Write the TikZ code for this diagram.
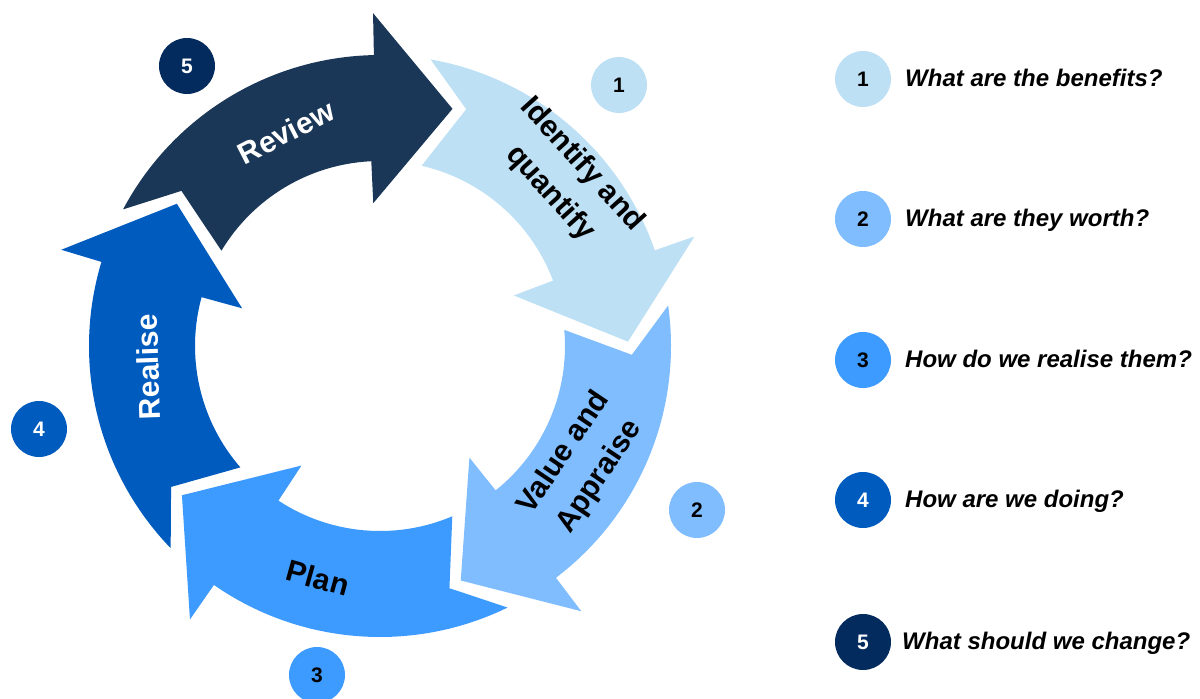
\documentclass[tikz,border=0pt]{standalone}
\usepackage{fontspec}
\setmainfont{Liberation Sans}
\usetikzlibrary{calc}
\definecolor{cIdent}{HTML}{BDE0F5}
\definecolor{cValue}{HTML}{80BDFF}
\definecolor{cPlan}{HTML}{3D9BFF}
\definecolor{cReal}{HTML}{005BBF}
\definecolor{cRev}{HTML}{1B3757}
\definecolor{cRevB}{HTML}{042B5E}
\newcommand\cyclearrow[2]{%
  \fill[#2] ($(C)+({#1+79}:291pt)$) arc[start angle={#1+79}, end angle={#1+18.2}, radius=291pt]
    -- ($(C)+({#1+18.2}:333pt)$) -- ($(C)+(#1:248pt)$) -- ($(C)+({#1+19.7}:143pt)$)
    -- ($(C)+({#1+19.7}:185pt)$) arc[start angle={#1+19.7}, end angle={#1+76}, radius=185pt]
    -- ($(C)+({#1+69}:252pt)$) -- cycle;}
\begin{document}
\begin{tikzpicture}[x=1pt,y=1pt,
  lbl/.style={font=\fontsize{30}{36}\selectfont\bfseries, align=center, inner sep=0pt},
  badge/.style={circle, minimum size=56pt, inner sep=0pt, font=\fontsize{21}{21}\selectfont\bfseries},
  q/.style={anchor=base west, inner sep=0pt, font=\fontsize{24}{24}\selectfont\bfseries\itshape}]
\useasboundingbox (0,-699) rectangle (1200,0);
\coordinate (C) at (380,-346);
% ring arrows
\cyclearrow{73}{cRev}
\cyclearrow{1}{cIdent}
\cyclearrow{289}{cValue}
\cyclearrow{217}{cPlan}
\cyclearrow{145}{cReal}
% labels on arrows
\node[lbl, text=white, rotate=27] (tRev) at (286,-132) {Review};
\node[lbl, rotate=-48] (tIdent) at (566,-179) {Identify and\\[7pt]quantify};
\node[lbl, rotate=56] (tVal) at (582,-465) {Value and\\[7pt]Appraise};
\node[lbl, rotate=-15.5] (tPlan) at (318,-578) {Plan};
\node[lbl, text=white, rotate=92] (tReal) at (148,-367) {Realise};
% badges near ring
\node[badge, fill=cRevB, text=white] (b5) at (187,-66) {5};
\node[badge, fill=cIdent] (b1) at (619,-85) {1};
\node[badge, fill=cValue] (b2) at (697,-510) {2};
\node[badge, fill=cPlan] (b3) at (317,-675) {3};
\node[badge, fill=cReal, text=white] (b4) at (39,-429) {4};
% legend
\node[badge, fill=cIdent] (l1) at (863,-79) {1};
\node[badge, fill=cValue] (l2) at (863,-219) {2};
\node[badge, fill=cPlan] (l3) at (863,-360) {3};
\node[badge, fill=cReal, text=white] (l4) at (863,-500) {4};
\node[badge, fill=cRevB, text=white] (l5) at (863,-642) {5};
\node[q] (q1) at (905,-86.5) {What are the benefits?};
\node[q] (q2) at (905,-226.5) {What are they worth?};
\node[q] (q3) at (905,-367.5) {How do we realise them?};
\node[q] (q4) at (905,-507.5) {How are we doing?};
\node[q] (q5) at (902,-649.5) {What should we change?};
\end{tikzpicture}
\end{document}
